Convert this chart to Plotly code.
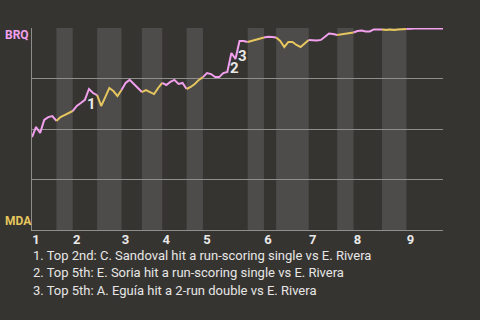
import plotly.graph_objects as go

# Win probability for BRQ (0..1) after each plate appearance
wp = [0.460, 0.510, 0.480, 0.545, 0.559, 0.564, 0.540,
      0.559, 0.569, 0.579, 0.589,
      0.614, 0.629, 0.644, 0.698, 0.678, 0.668,
      0.614, 0.658, 0.703, 0.688, 0.663, 0.693,
      0.728, 0.743, 0.723, 0.703, 0.683,
      0.693, 0.683, 0.673, 0.703, 0.728,
      0.718, 0.733, 0.743, 0.723, 0.728, 0.698,
      0.708, 0.723, 0.743, 0.757,
      0.777, 0.772, 0.757, 0.757, 0.777, 0.782, 0.876, 0.847, 0.936, 0.936, 0.931,
      0.936, 0.943, 0.948, 0.953,
      0.957, 0.955, 0.953,
      0.936, 0.906, 0.931, 0.931, 0.916, 0.906, 0.926, 0.941,
      0.938, 0.938, 0.941, 0.955, 0.973, 0.970, 0.965,
      0.968, 0.973, 0.975, 0.978,
      0.985, 0.988, 0.983, 0.983, 0.993, 0.993, 0.993,
      0.990, 0.993, 0.990, 0.993, 0.994, 0.995,
      0.997, 0.997, 0.997, 0.997, 0.997, 0.997, 0.997, 0.997, 0.997]

# index where each half-inning starts (top 1st, bottom 1st, ...), plus end
half_starts = [0, 6, 10, 16, 22, 27, 32, 38, 42, 53, 57, 60, 68, 75, 79, 86, 92, 101]
inning_labels = ["1", "2", "3", "4", "5", "6", "7", "8", "9"]

event_idx = [14, 49, 51]
event_labels = ["1", "2", "3"]
notes = [
    "1. Top 2nd: C. Sandoval hit a run-scoring single vs E. Rivera",
    "2. Top 5th: E. Soria hit a run-scoring single vs E. Rivera",
    "3. Top 5th: A. Eguía hit a 2-run double vs E. Rivera",
]

BG = "#363430"
BAND = "#4d4c4a"
PINK = "#f2a0ee"
GOLD = "#e6c65e"
GRID = "#8e8e8c"
FONT = "Roboto"

fig = go.Figure()

shapes = []
for h in range(len(half_starts) - 1):
    a, b = half_starts[h], half_starts[h + 1]
    color = PINK if h % 2 == 0 else GOLD
    xs = list(range(a, b + 1))
    fig.add_trace(go.Scatter(x=xs, y=wp[a:b + 1], mode="lines",
                             line=dict(color=color, width=2),
                             hoverinfo="skip", showlegend=False))
    if h % 2 == 1:
        shapes.append(dict(type="rect", xref="x", yref="y", x0=a, x1=b, y0=0, y1=1,
                           fillcolor=BAND, line=dict(width=0), layer="below"))

inning_starts = half_starts[0:-1:2]
tickvals = [s + 1.0 for s in inning_starts]

annotations = []
for i, lab in zip(event_idx, event_labels):
    annotations.append(dict(x=i, y=wp[i], xref="x", yref="y", text=f"<b>{lab}</b>",
                            showarrow=False, xshift=3, yshift=-15,
                            font=dict(family=FONT, size=15, color="#e8e8e8")))

PLOT_W = 411.0
lab_x = (3 - 32) / PLOT_W
annotations.append(dict(x=lab_x, y=1, xref="paper", yref="paper", text="<b>BRQ</b>",
                        showarrow=False, xanchor="left", yanchor="middle",
                        yshift=-7, font=dict(family=FONT, size=12, color=PINK)))
annotations.append(dict(x=lab_x, y=0, xref="paper", yref="paper", text="<b>MDA</b>",
                        showarrow=False, xanchor="left", yanchor="middle",
                        yshift=9, font=dict(family=FONT, size=12, color=GOLD)))

for k, t in enumerate(notes):
    ypx = 255 + 17.5 * k
    annotations.append(dict(x=0, y=(230 - ypx) / 202, xref="paper", yref="paper", text=t,
                            showarrow=False, xanchor="left", yanchor="middle", xshift=-1,
                            font=dict(family=FONT, size=13, color="#e6e6e6")))

fig.update_layout(
    width=480, height=320,
    margin=dict(l=32, r=37, t=28, b=90),
    paper_bgcolor=BG, plot_bgcolor=BG,
    shapes=shapes, annotations=annotations,
    xaxis=dict(range=[0, 101], showgrid=False, zeroline=False,
               showline=True, linecolor=GRID, linewidth=1,
               tickvals=tickvals, ticktext=[f"<b>{t}</b>" for t in inning_labels],
               ticks="", ticklabelstandoff=-3,
               tickfont=dict(family=FONT, size=13, color="#e8e8e8")),
    yaxis=dict(range=[0, 1], showgrid=True, gridcolor=GRID, gridwidth=1,
               tickvals=[0, 0.25, 0.5, 0.75, 1], showticklabels=False,
               zeroline=False, showline=True, linecolor=GRID, linewidth=1, ticks=""),
    showlegend=False,
)

fig.write_html("out.html")
